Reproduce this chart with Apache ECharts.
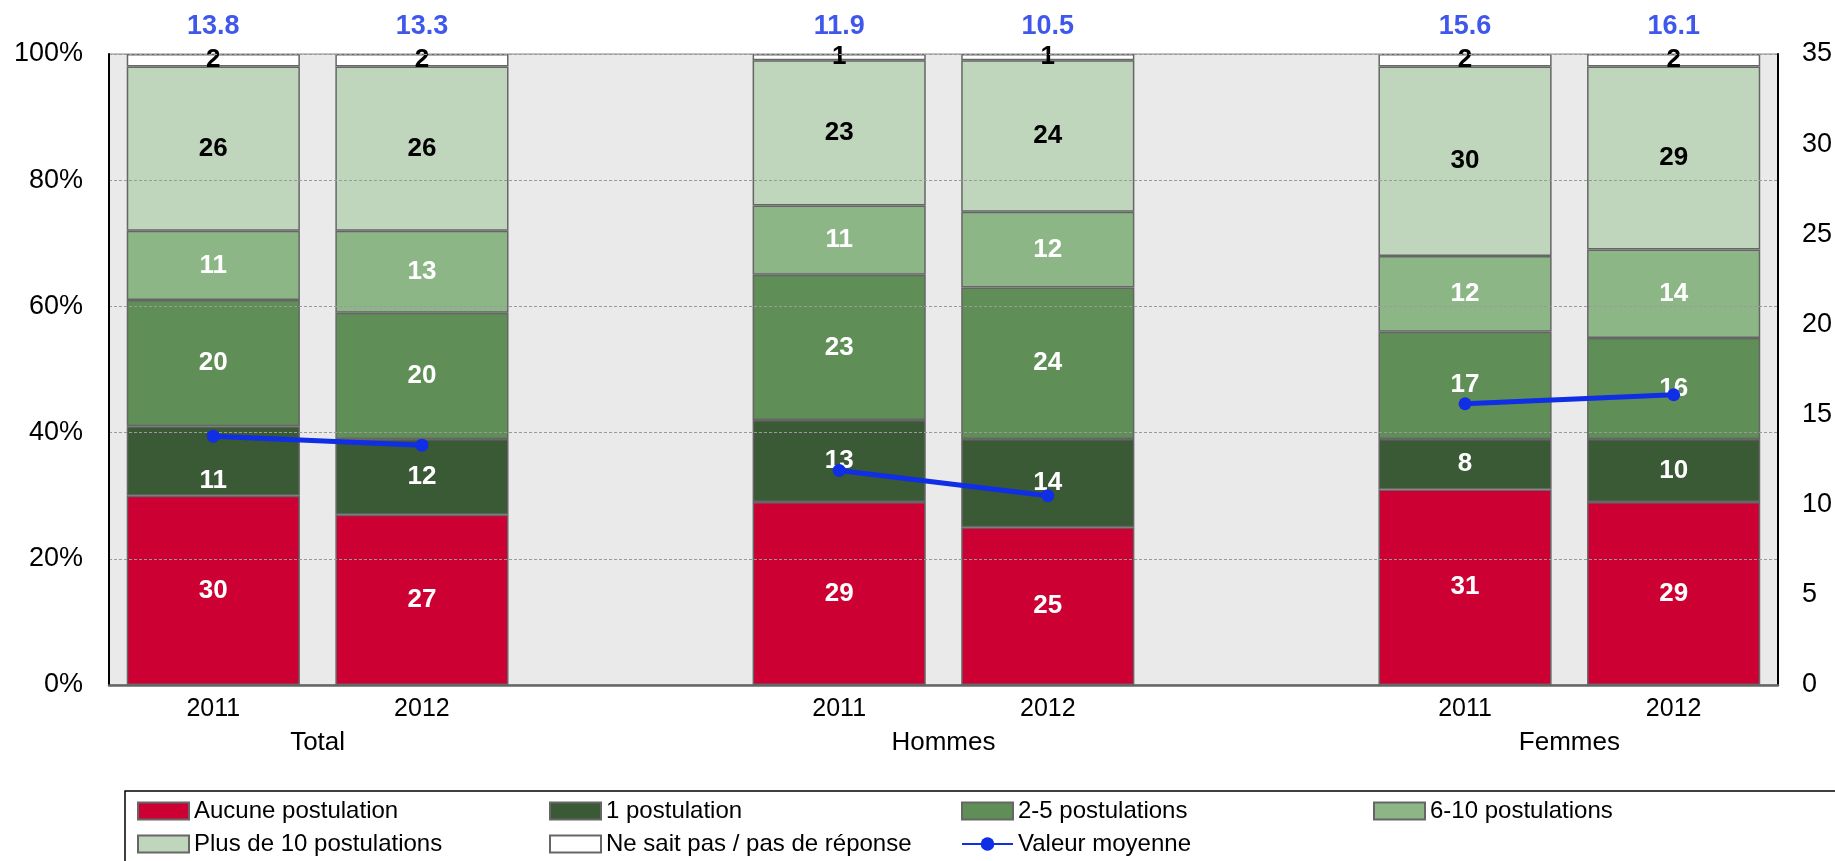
<!DOCTYPE html>
<html>
<head>
<meta charset="utf-8">
<script src="https://cdn.jsdelivr.net/npm/echarts@6/dist/echarts.min.js"></script>
<style>
html,body{margin:0;padding:0;background:#fff;}
#chart{width:1835px;height:861px;}
</style>
</head>
<body>
<div id="chart"></div>
<script>
// ---- Data ----
const groups = ['Total', 'Hommes', 'Femmes'];
const years = ['2011', '2012'];
const seriesNames = ['Aucune postulation', '1 postulation', '2-5 postulations', '6-10 postulations', 'Plus de 10 postulations', 'Ne sait pas / pas de réponse'];
const aucune   = [30, 27, 29, 25, 31, 29];
const une      = [11, 12, 13, 14, 8, 10];
const deuxCinq = [20, 20, 23, 24, 17, 16];
const sixDix   = [11, 13, 11, 12, 12, 14];
const plusDix  = [26, 26, 23, 24, 30, 29];
const nsp      = [2, 2, 1, 1, 2, 2];
const moyenne  = [13.8, 13.3, 11.9, 10.5, 15.6, 16.1];
const leftTicks = [0, 20, 40, 60, 80, 100];
const rightTicks = [0, 5, 10, 15, 20, 25, 30, 35];

// ---- Build categories with spacer columns between groups ----
const categories = [];
const slotOf = []; // data index -> category index
groups.forEach((g, gi) => {
  years.forEach((y) => {
    slotOf.push(categories.length);
    categories.push(y);
  });
  if (gi < groups.length - 1) categories.push('');
});
function spread(arr) {
  const out = categories.map(() => null);
  arr.forEach((v, i) => { out[slotOf[i]] = v; });
  return out;
}
const groupCenters = groups.map((g, gi) => (slotOf[gi * 2] + slotOf[gi * 2 + 1] + 1) / 2);

const colors = ['#CC0033', '#3A5935', '#5F8F57', '#8DB687', '#BFD6BC', '#FFFFFF'];
const labelColors = ['#fff', '#fff', '#fff', '#fff', '#000', '#000'];
const dataSets = [aucune, une, deuxCinq, sixDix, plusDix, nsp];
const FONT = "'Liberation Sans', Arial, Helvetica, sans-serif";
const BLUE = '#0F2EE6';

const series = dataSets.map((arr, si) => {
  const d = spread(arr).map((v, ci) => {
    // one label nudged downward in the original (Total 2011, 1 postulation)
    if (si === 1 && ci === slotOf[0]) return { value: v, label: { offset: [0, 20] } };
    return v;
  });
  return {
    name: seriesNames[si],
    type: 'bar',
    stack: 'total',
    barCategoryGap: '17%',
    data: d,
    itemStyle: { color: colors[si], borderColor: '#666', borderWidth: 1.5 },
    label: {
      show: true, position: 'inside', color: labelColors[si],
      fontFamily: FONT, fontWeight: 'bold', fontSize: 26,
      formatter: p => p.value == null ? '' : String(p.value)
    },
    emphasis: { disabled: true },
    z: 2
  };
});

series.push({
  name: 'Valeur moyenne',
  type: 'line',
  yAxisIndex: 1,
  data: spread(moyenne),
  connectNulls: false,
  color: BLUE,
  lineStyle: { color: BLUE, width: 5 },
  itemStyle: { color: BLUE },
  symbol: 'circle',
  symbolSize: 13,
  emphasis: { disabled: true },
  z: 5
});

// blue mean values shown above each bar
series.push({
  name: 'meanLabels',
  type: 'scatter',
  yAxisIndex: 0,
  data: spread(moyenne).map(v => v == null ? null : 100),
  symbolSize: 0,
  label: {
    show: true, position: 'top', distance: 14,
    color: BLUE, fontFamily: FONT, fontWeight: 'bold', fontSize: 27,
    formatter: p => {
      const idx = slotOf.indexOf(p.dataIndex);
      return idx >= 0 ? moyenne[idx].toFixed(1) : '';
    }
  },
  silent: true,
  z: 6
});

const legendData = seriesNames.map(n => ({ name: n, icon: 'rect' })).concat([{ name: 'Valeur moyenne' }]);

const chart = echarts.init(document.getElementById('chart'));
chart.setOption({
  animation: false,
  backgroundColor: '#fff',
  grid: {
    left: 109, right: 56, top: 54, bottom: 176,
    show: true, backgroundColor: '#EAEAEA', borderColor: '#888', borderWidth: 1
  },
  legend: {
    data: legendData,
    left: 125, top: 791,
    width: 1700,
    orient: 'horizontal',
    padding: [8, 120, 30, 12],
    itemGap: 9,
    itemWidth: 51, itemHeight: 17,
    borderColor: '#000', borderWidth: 1.5,
    textStyle: { fontFamily: FONT, fontSize: 24, color: '#000', width: 346, lineHeight: 24 },
    selectedMode: false
  },
  xAxis: [
    {
      type: 'category', data: categories,
      axisLine: { show: true, lineStyle: { color: '#666', width: 2.5 } },
      axisTick: { show: false },
      axisLabel: { fontFamily: FONT, fontSize: 25, color: '#000', margin: 12, interval: 0 },
      splitLine: { show: false },
      z: 3
    },
    {
      type: 'value', position: 'bottom', offset: 33,
      min: 0, max: categories.length, interval: 1,
      axisLine: { show: false }, axisTick: { show: false }, splitLine: { show: false },
      axisLabel: {
        fontFamily: FONT, fontSize: 26, color: '#000', margin: 12,
        showMinLabel: true, showMaxLabel: true,
        formatter: v => { const i = groupCenters.indexOf(v); return i >= 0 ? groups[i] : ''; }
      }
    }
  ],
  yAxis: [
    {
      type: 'value', min: leftTicks[0], max: leftTicks[leftTicks.length - 1], interval: 20,
      position: 'left',
      axisLine: { show: true, lineStyle: { color: '#000', width: 2 } },
      axisTick: { show: false },
      axisLabel: { fontFamily: FONT, fontSize: 27, color: '#000', margin: 26, formatter: '{value}%' },
      splitLine: { show: true, lineStyle: { color: '#9a9a9a', width: 1, type: [3, 2] } },
      z: 3
    },
    {
      type: 'value', min: rightTicks[0], max: rightTicks[rightTicks.length - 1], interval: 5,
      position: 'right',
      axisLine: { show: true, lineStyle: { color: '#000', width: 2 } },
      axisTick: { show: false },
      axisLabel: { fontFamily: FONT, fontSize: 27, color: '#000', margin: 24 },
      splitLine: { show: false },
      z: 3
    }
  ],
  series: series
});
</script>
</body>
</html>
